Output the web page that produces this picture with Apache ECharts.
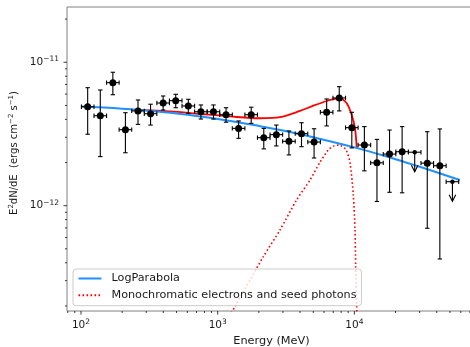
<!DOCTYPE html>
<html><head><meta charset="utf-8">
<script src="https://cdn.jsdelivr.net/npm/echarts@6/dist/echarts.min.js"></script>
<style>html,body{margin:0;padding:0;background:#fff}#c{width:470px;height:347px}</style>
</head><body><div id="c"></div>
<script>
// ---- data ----
const energyMeV = [111.9, 138.4, 171.0, 211.3, 261.2, 322.8, 399.0, 493.2, 609.5, 753.5, 931.1, 1151, 1422, 1758, 2173, 2685, 3319, 4102, 5070, 6266, 7745, 9572, 11830, 14620, 18070, 22340, 27610, 34120, 42170, 52120];
const binLowMeV = [100.7, 124.5, 153.8, 190.1, 235.0, 290.4, 358.9, 443.6, 548.3, 677.6, 837.5, 1035, 1279, 1581, 1954, 2415, 2985, 3690, 4560, 5636, 6966, 8610, 10640, 13150, 16260, 20090, 24830, 30690, 37930, 46880];
const binHighMeV = [124.5, 153.8, 190.1, 235.0, 290.4, 358.9, 443.6, 548.3, 677.6, 837.5, 1035, 1279, 1581, 1954, 2415, 2985, 3690, 4560, 5636, 6966, 8610, 10640, 13150, 16260, 20090, 24830, 30690, 37930, 46880, 57940];
const flux = [4.90e-12, 4.24e-12, 7.21e-12, 3.39e-12, 4.58e-12, 4.38e-12, 5.20e-12, 5.40e-12, 4.96e-12, 4.52e-12, 4.52e-12, 4.31e-12, 3.46e-12, 4.31e-12, 2.98e-12, 3.13e-12, 2.81e-12, 3.18e-12, 2.78e-12, 4.48e-12, 5.64e-12, 3.50e-12, 2.65e-12, 1.99e-12, 2.29e-12, 2.38e-12, 2.36e-12, 1.98e-12, 1.90e-12, 1.47e-12];
const fluxLow = [3.15e-12, 2.20e-12, 5.94e-12, 2.34e-12, 3.69e-12, 3.65e-12, 4.65e-12, 4.82e-12, 4.41e-12, 4.02e-12, 4.02e-12, 3.82e-12, 2.95e-12, 3.75e-12, 2.49e-12, 2.61e-12, 2.26e-12, 2.58e-12, 2.15e-12, 3.60e-12, 4.58e-12, 2.53e-12, 1.75e-12, 1.07e-12, 1.24e-12, 1.23e-12, null, 6.96e-13, 4.25e-13, null];
const fluxHigh = [6.65e-12, 6.41e-12, 8.52e-12, 4.45e-12, 5.46e-12, 5.10e-12, 5.82e-12, 5.98e-12, 5.52e-12, 5.04e-12, 5.04e-12, 4.82e-12, 3.90e-12, 4.86e-12, 3.46e-12, 3.65e-12, 3.32e-12, 3.79e-12, 3.44e-12, 5.55e-12, 6.76e-12, 4.48e-12, 3.56e-12, 2.90e-12, 3.37e-12, 3.56e-12, null, 3.28e-12, 3.43e-12, null];
const upperLimit = [0,0,0,0,0,0,0,0,0,0,0,0,0,0,0,0,0,0,0,0,0,0,0,0,0,0,1,0,0,1];

const logParabolaE = [100, 200, 300, 500, 1000, 2000, 3000, 5000, 10000, 20000, 30000, 59000];
const logParabolaF = [4.91e-12, 4.75e-12, 4.61e-12, 4.39e-12, 4.02e-12, 3.60e-12, 3.34e-12, 3.00e-12, 2.55e-12, 2.11e-12, 1.87e-12, 1.51e-12];

const totalE = [270, 448, 742, 1230, 2039, 2856, 4000, 5005, 6272, 7214, 7757, 8783, 9556, 10102, 10395];
const totalF = [4.65e-12, 4.54e-12, 4.36e-12, 4.19e-12, 4.07e-12, 4.14e-12, 4.58e-12, 4.98e-12, 5.37e-12, 5.55e-12, 5.61e-12, 5.18e-12, 4.29e-12, 3.46e-12, 2.53e-12];

const monoE = [1131, 1338, 2156, 2856, 3785, 4734, 5603, 6446, 7094, 7757, 8683, 9287, 9817, 10102, 10222, 10395, 10483];
const monoF = [1.51e-13, 1.98e-13, 4.41e-13, 6.77e-13, 1.10e-12, 1.51e-12, 2.01e-12, 2.45e-12, 2.61e-12, 2.65e-12, 2.45e-12, 1.99e-12, 1.19e-12, 6.77e-13, 3.75e-13, 1.98e-13, 1.36e-13];

const xMajorTicks = [100, 1000, 10000];
const xTickLabels = ['10^2', '10^3', '10^4'];
const xMinorTicks = [80, 90, 200, 300, 400, 500, 600, 700, 800, 900, 2000, 3000, 4000, 5000, 6000, 7000, 8000, 9000, 20000, 30000, 40000, 50000, 60000, 70000];
const yMajorTicks = [1e-12, 1e-11];
const yTickLabels = ['10^\u221212', '10^\u221211'];
const yMinorTicks = [2e-13, 3e-13, 4e-13, 5e-13, 6e-13, 7e-13, 8e-13, 9e-13, 2e-12, 3e-12, 4e-12, 5e-12, 6e-12, 7e-12, 8e-12, 9e-12, 2e-11];

const X_MIN = 79.0, X_MAX = 77530, Y_MIN = 1.844e-13, Y_MAX = 2.429e-11;

// ---- drawing ----
const FONT = 'DejaVu Sans';
const TXT = '#1a1a1a';
const rich = {
  b: {fontSize: 10.5, fontFamily: FONT, fill: TXT, color: TXT, lineHeight: 14},
  s: {fontSize: 7.5, fontFamily: FONT, fill: TXT, color: TXT, lineHeight: 9, verticalAlign: 'top'}
};
function supText(t) { const p = t.split('^'); return '{b|' + p[0] + '}{s|' + p[1] + '}'; }

function tickSeries(values, labels, isX, len) {
  return {
    type: 'custom', silent: true, z: 1,
    data: values.map(v => isX ? [v, Y_MIN] : [X_MIN, v]),
    renderItem: function (params, api) {
      const cs = params.coordSys;
      const st = {stroke: '#222', lineWidth: 0.9};
      const ch = [];
      if (isX) {
        const px = api.coord([api.value(0), Y_MIN])[0];
        const yb = cs.y + cs.height;
        ch.push({type: 'line', shape: {x1: px, y1: yb, x2: px, y2: yb + len}, style: st});
        if (labels) ch.push({type: 'text', x: px, y: yb + len + 4,
          style: {text: supText(labels[params.dataIndex]), rich: rich, align: 'center', verticalAlign: 'top'}});
      } else {
        const py = api.coord([X_MIN, api.value(1)])[1];
        const xl = cs.x;
        ch.push({type: 'line', shape: {x1: xl, y1: py, x2: xl - len, y2: py}, style: st});
        if (labels) ch.push({type: 'text', x: xl - len - 4.5, y: py,
          style: {text: supText(labels[params.dataIndex]), rich: rich, align: 'right', verticalAlign: 'middle'}});
      }
      return {type: 'group', children: ch};
    }
  };
}

const errorData = energyMeV.map((e, i) => [e, flux[i],
  fluxLow[i] == null ? flux[i] : fluxLow[i], fluxHigh[i] == null ? flux[i] : fluxHigh[i],
  binLowMeV[i], binHighMeV[i], upperLimit[i]]);

function renderErr(params, api) {
  const e = api.value(0), f = api.value(1), lo = api.value(2), hi = api.value(3);
  const el = api.value(4), eh = api.value(5), ul = api.value(6);
  const c = api.coord([e, f]);
  const xl = api.coord([el, f])[0], xh = api.coord([eh, f])[0];
  const st = {stroke: '#000', lineWidth: 1.1};
  const cap = 2.2;
  const ch = [
    {type: 'line', shape: {x1: xl, y1: c[1], x2: xh, y2: c[1]}, style: st},
    {type: 'line', shape: {x1: xl, y1: c[1] - cap, x2: xl, y2: c[1] + cap}, style: st},
    {type: 'line', shape: {x1: xh, y1: c[1] - cap, x2: xh, y2: c[1] + cap}, style: st}
  ];
  if (ul) {
    const L = 19.5;
    ch.push({type: 'line', shape: {x1: c[0], y1: c[1], x2: c[0], y2: c[1] + L}, style: st});
    ch.push({type: 'polyline', shape: {points: [[c[0] - 3.3, c[1] + L - 6.5], [c[0], c[1] + L], [c[0] + 3.3, c[1] + L - 6.5]]}, style: Object.assign({fill: null}, st)});
  } else {
    const yl = api.coord([e, lo])[1], yh = api.coord([e, hi])[1];
    ch.push({type: 'line', shape: {x1: c[0], y1: yl, x2: c[0], y2: yh}, style: st});
    ch.push({type: 'line', shape: {x1: c[0] - cap, y1: yl, x2: c[0] + cap, y2: yl}, style: st});
    ch.push({type: 'line', shape: {x1: c[0] - cap, y1: yh, x2: c[0] + cap, y2: yh}, style: st});
  }
  return {type: 'group', children: ch};
}

const chart = echarts.init(document.getElementById('c'), null, {renderer: 'canvas', width: 470, height: 347});
chart.setOption({
  animation: false,
  backgroundColor: '#fff',
  textStyle: {fontFamily: FONT},
  grid: {left: 67, top: 7, right: -6, bottom: 36, show: true, borderColor: '#808080', borderWidth: 1, backgroundColor: '#fff',
    outerBoundsMode: 'none', containLabel: false},
  xAxis: {
    type: 'log', logBase: 10, min: X_MIN, max: X_MAX,
    axisLine: {show: false}, axisTick: {show: false}, axisLabel: {show: false}, splitLine: {show: false}, minorTick: {show: false},
    name: 'Energy (MeV)', nameLocation: 'middle', nameGap: 24,
    nameTextStyle: {fontSize: 11.3, fontFamily: FONT, color: TXT, lineHeight: 13}
  },
  yAxis: {
    type: 'log', logBase: 10, min: Y_MIN, max: Y_MAX,
    axisLine: {show: false}, axisTick: {show: false}, axisLabel: {show: false}, splitLine: {show: false}, minorTick: {show: false}
  },
  graphic: [{
    type: 'text', x: 14.5, y: 153, rotation: Math.PI / 2, silent: true,
    style: {
      text: 'E{s|2}dN/dE  (ergs cm{s|\u22122} s{s|\u22121})',
      fontSize: 10, fontFamily: FONT, fill: TXT, lineHeight: 13,
      align: 'center', verticalAlign: 'middle',
      rich: {s: {fontSize: 7, fontFamily: FONT, fill: TXT, lineHeight: 8.5, verticalAlign: 'top'}}
    }
  }],
  legend: {
    orient: 'vertical', left: 73, top: 269,
    data: ['LogParabola', 'Monochromatic electrons and seed photons'],
    itemWidth: 23, itemHeight: 12, itemGap: 4.7,
    padding: [3.5, 5, 4.5, 4.5],
    backgroundColor: 'rgba(255,255,255,0.8)', borderColor: '#cccccc', borderWidth: 1, borderRadius: 3,
    itemStyle: {opacity: 0},
    textStyle: {fontSize: 11.2, fontFamily: FONT, color: TXT, lineHeight: 12, padding: [0, 0, 0, 5]},
    selectedMode: false
  },
  series: [
    {name: 'Total', type: 'line', z: 2, data: totalE.map((e, i) => [e, totalF[i]]), symbol: 'none', smooth: 0.3,
      lineStyle: {color: '#ff0000', width: 1.8}, itemStyle: {color: '#ff0000'}},
    {name: 'Monochromatic electrons and seed photons', type: 'line', z: 2, data: monoE.map((e, i) => [e, monoF[i]]), symbol: 'none', smooth: 0.25,
      lineStyle: {color: '#ff0000', width: 1.6, type: [1.6, 2.4]}, itemStyle: {color: '#ff0000'}},
    {name: 'LogParabola', type: 'line', z: 3, data: logParabolaE.map((e, i) => [e, logParabolaF[i]]), symbol: 'none', smooth: 0.4,
      lineStyle: {color: '#1e90ff', width: 2}, itemStyle: {color: '#1e90ff'}},
    {name: 'errors', type: 'custom', z: 4, silent: true, data: errorData, encode: {x: 0, y: 1}, renderItem: renderErr},
    {name: 'points', type: 'scatter', z: 5, silent: true, symbolSize: 7, itemStyle: {color: '#000', opacity: 1},
      data: energyMeV.map((e, i) => [e, flux[i]]).filter((d, i) => !upperLimit[i])},
    {name: 'limits', type: 'scatter', z: 5, silent: true, symbolSize: 4.5, itemStyle: {color: '#000', opacity: 1},
      data: energyMeV.map((e, i) => [e, flux[i]]).filter((d, i) => upperLimit[i])},
    tickSeries(xMajorTicks, xTickLabels, true, 3.5),
    tickSeries(xMinorTicks, null, true, 2),
    tickSeries(yMajorTicks, yTickLabels, false, 3.5),
    tickSeries(yMinorTicks, null, false, 2)
  ]
});
</script></body></html>
